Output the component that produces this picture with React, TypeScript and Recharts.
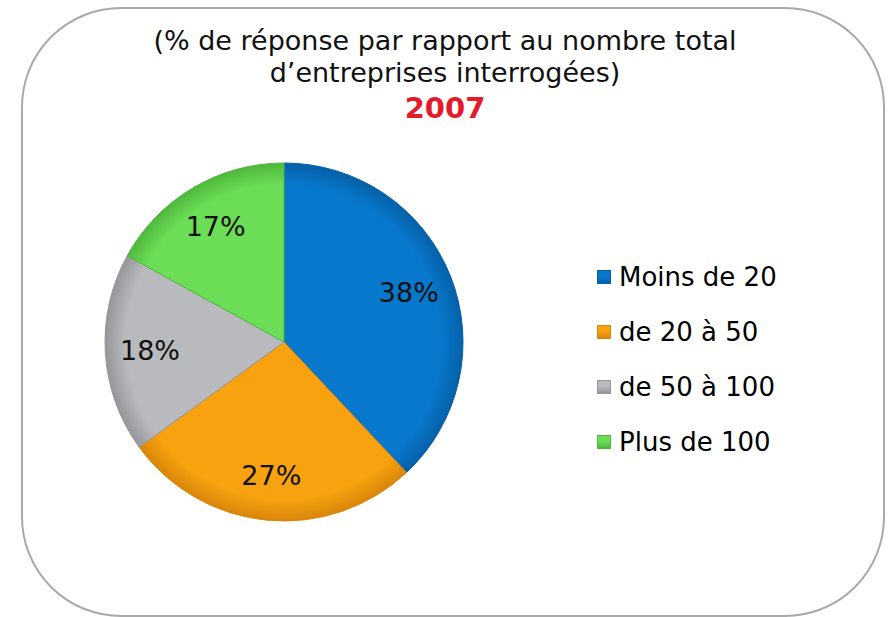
import React from "react";
import { PieChart, Pie, Cell } from "recharts";

const categories = ["Moins de 20", "de 20 à 50", "de 50 à 100", "Plus de 100"];
const shares = [38, 27, 18, 17];
const colors = ["#0878cc", "#f7a20e", "#b9babe", "#6bdd56"];
const darkColors = ["#0560a8", "#d9860a", "#96979b", "#4fb83c"];
const titleLines = ["(% de réponse par rapport au nombre total", "d\u2019entreprises interrogées)"];
const yearLabel = "2007";

const data = categories.map((name, i) => ({ name, value: shares[i] }));

const FONT = "'DejaVu Sans', Verdana, sans-serif";
const RADIAN = Math.PI / 180;

function renderLabel(props: any) {
    const { cx, cy, midAngle, outerRadius, value } = props;
    const r = outerRadius * 0.75;
    const x = cx + r * Math.cos(-midAngle * RADIAN);
    const y = cy + r * Math.sin(-midAngle * RADIAN);
    return (
        <text x={x} y={y} textAnchor="middle" dominantBaseline="central" fill="#111" fontSize={27} fontFamily={FONT}>
            {`${value}%`}
        </text>
    );
}

function LegendBlock() {
    return (
        <div style={{ position: "absolute", left: 597, top: 249, fontFamily: FONT }}>
            {categories.map((c, i) => (
                <div key={c} style={{ display: "flex", alignItems: "center", height: 55 }}>
                    <div
                        style={{
                            width: 14,
                            height: 14,
                            background: `linear-gradient(180deg, ${colors[i]} 0%, ${colors[i]} 45%, ${darkColors[i]} 100%)`,
                            border: `1px solid ${darkColors[i]}`,
                            boxSizing: "border-box",
                            marginRight: 8,
                        }}
                    />
                    <span style={{ fontSize: 26, color: "#000" }}>{c}</span>
                </div>
            ))}
        </div>
    );
}

export default function App() {
    return (
        <div style={{ position: "absolute", left: 0, top: 0, width: 890, height: 617, background: "#fff", overflow: "hidden" }}>
            <div
                style={{
                    position: "absolute",
                    left: 21,
                    top: 7,
                    width: 864,
                    height: 610,
                    border: "2.5px solid #a9a9ab",
                    borderRadius: 100,
                    boxSizing: "border-box",
                }}
            />
            <div style={{ position: "absolute", left: 0, top: 25, width: 890, textAlign: "center", fontFamily: FONT, fontSize: 27, lineHeight: "32px", color: "#111" }}>
                {titleLines.map((l) => (
                    <div key={l}>{l}</div>
                ))}
                <div style={{ color: "#e31b2b", fontWeight: "bold", fontSize: 29, lineHeight: "38px" }}>{yearLabel}</div>
            </div>
            <div style={{ position: "absolute", left: 0, top: 0 }}>
                <PieChart width={570} height={617} margin={{ top: 0, right: 0, bottom: 0, left: 0 }}>
                    <defs>
                        {colors.map((c, i) => (
                            <radialGradient key={c} id={`g${i}`} cx="284" cy="342" r="179" gradientUnits="userSpaceOnUse">
                                <stop offset="0%" stopColor={colors[i]} />
                                <stop offset="88%" stopColor={colors[i]} />
                                <stop offset="100%" stopColor={darkColors[i]} />
                            </radialGradient>
                        ))}
                    </defs>
                    <Pie
                        data={data}
                        dataKey="value"
                        cx={284}
                        cy={342}
                        outerRadius={179}
                        startAngle={90}
                        endAngle={-270}
                        label={renderLabel}
                        labelLine={false}
                        isAnimationActive={false}
                    >
                        {data.map((d, i) => (
                            <Cell key={d.name} fill={`url(#g${i})`} stroke={darkColors[i]} strokeWidth={1} />
                        ))}
                    </Pie>
                </PieChart>
            </div>
            <LegendBlock />
        </div>
    );
}
